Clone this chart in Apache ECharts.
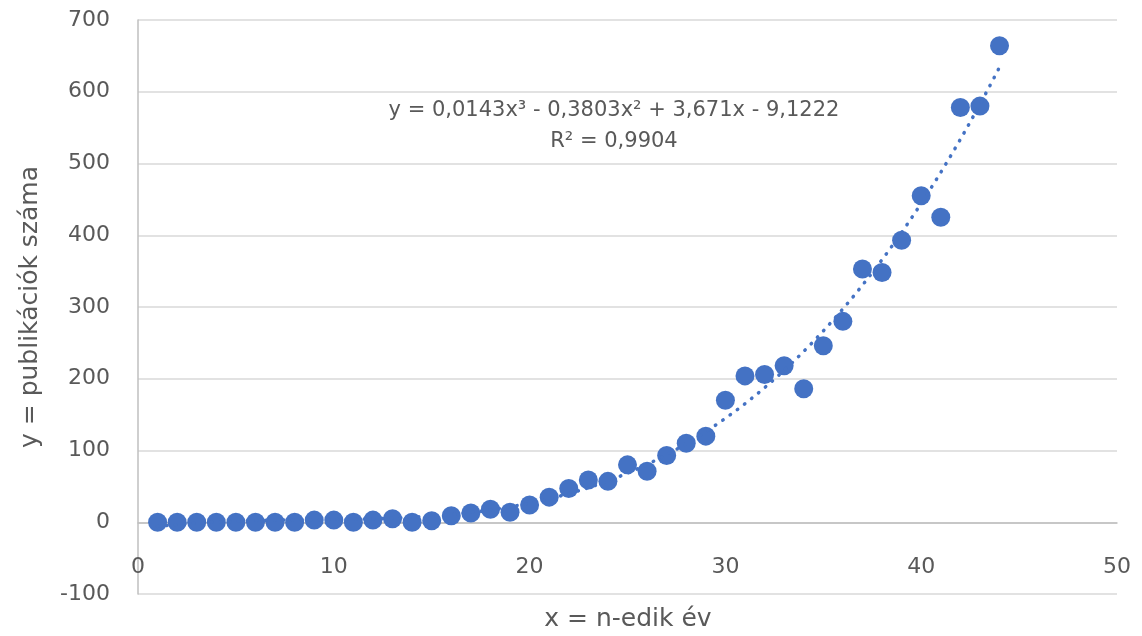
<!DOCTYPE html>
<html>
<head>
<meta charset="utf-8">
<script src="https://cdn.jsdelivr.net/npm/echarts@6/dist/echarts.min.js"></script>
<style>
html,body{margin:0;padding:0;background:#fff;}
#chart{width:1142px;height:636px;}
</style>
</head>
<body>
<div id="chart"></div>
<script>
// x = n-th year
const years = [1,2,3,4,5,6,7,8,9,10,11,12,13,14,15,16,17,18,19,20,21,22,23,24,25,26,27,28,29,30,31,32,33,34,35,36,37,38,39,40,41,42,43,44];
// y = number of publications
const publications = [0,0,0,0,0,0,0,0,3,3,0,3,5,0,2,9,13,18,14,24,35,47,59,57,80,71,93,110,120,170,204,206,218,186,246,280,353,348,393,455,425,578,580,664];
// polynomial trendline coefficients (as displayed): a3, a2, a1, a0
const trendCoef = [0.0143, -0.3803, 3.671, -9.1222];
const trendRange = [1, 44];
const xTicks = [0, 10, 20, 30, 40, 50];
const yTicks = [-100, 0, 100, 200, 300, 400, 500, 600, 700];
const equationText = 'y = 0,0143x³ - 0,3803x² + 3,671x - 9,1222';
const r2Text = 'R² = 0,9904';
const xTitle = 'x = n-edik év';
const yTitle = 'y = publikációk száma';

const scatterData = years.map((x, i) => [x, publications[i]]);
const trendData = [];
for (let x = trendRange[0]; x <= trendRange[1] + 1e-9; x += 0.25) {
  const y = trendCoef[0]*x*x*x + trendCoef[1]*x*x + trendCoef[2]*x + trendCoef[3];
  trendData.push([x, y]);
}

const FONT = 'DejaVu Sans';
const TXT = '#595959';
const W = 1142, H = 636;
const grid = {left: 138, right: 25, top: 20, bottom: 42};
const plotH = H - grid.top - grid.bottom;
const yMin = yTicks[0], yMax = yTicks[yTicks.length-1];
// move x axis up to y = 0 (Excel-style crossing)
const zeroOffset = -plotH * (0 - yMin) / (yMax - yMin);

const chart = echarts.init(document.getElementById('chart'), null, {renderer: 'canvas'});
chart.setOption({
  animation: false,
  backgroundColor: '#fff',
  textStyle: {fontFamily: FONT},
  grid: Object.assign({containLabel: false}, grid),
  xAxis: {
    type: 'value',
    min: xTicks[0], max: xTicks[xTicks.length-1], interval: 10,
    offset: zeroOffset,
    axisLine: {show: true, onZero: false, lineStyle: {color: '#BFBFBF', width: 1.5}},
    axisTick: {show: false},
    axisLabel: {color: TXT, fontSize: 22, fontFamily: FONT, margin: 34},
    splitLine: {show: false}
  },
  yAxis: {
    type: 'value',
    min: yMin, max: yMax, interval: 100,
    axisLine: {show: true, onZero: false, lineStyle: {color: '#BFBFBF', width: 1.5}},
    axisTick: {show: false},
    axisLabel: {color: TXT, fontSize: 22, fontFamily: FONT, margin: 28},
    splitLine: {show: true, lineStyle: {color: '#D9D9D9', width: 1.5}},
    name: yTitle, nameLocation: 'middle', nameGap: 95, nameRotate: 90,
    nameTextStyle: {color: TXT, fontSize: 25, fontFamily: FONT}
  },
  graphic: [
    {type: 'text', z: 100, style: {text: xTitle, x: 628, y: 619, fill: TXT, fontSize: 25, fontFamily: FONT, align: 'center', verticalAlign: 'middle'}},
    {type: 'text', z: 100, style: {text: equationText, x: 614, y: 111, fill: TXT, fontSize: 21, fontFamily: FONT, align: 'center', verticalAlign: 'middle'}},
    {type: 'text', z: 100, style: {text: r2Text, x: 614, y: 142, fill: TXT, fontSize: 21, fontFamily: FONT, align: 'center', verticalAlign: 'middle'}}
  ],
  series: [
    {
      type: 'scatter',
      data: scatterData,
      symbol: 'circle',
      symbolSize: 19,
      itemStyle: {color: '#4472C4', opacity: 1},
      z: 2
    },
    {
      type: 'line',
      data: trendData,
      showSymbol: false,
      smooth: false,
      lineStyle: {color: '#4472C4', width: 3.5, type: [0.5, 8.5], cap: 'round'},
      z: 3
    }
  ]
});
</script>
</body>
</html>
